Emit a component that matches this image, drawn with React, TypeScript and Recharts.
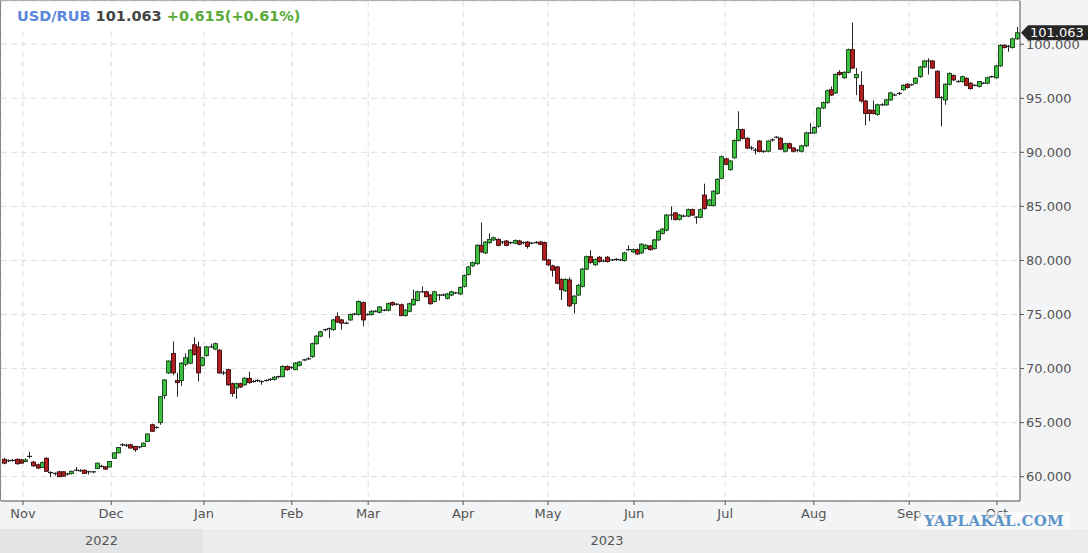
import { Bar, CartesianGrid, ComposedChart, ReferenceLine, XAxis, YAxis } from "recharts";

// daily candles, [open, high, low, close]
const ohlc: [number, number, number, number][] = [
  [61.6, 61.75, 61.15, 61.25], [61.45, 61.6, 61.35, 61.5], [61.5, 61.65, 61.4, 61.5], [61.6, 61.7, 61.1, 61.2],
  [61.55, 61.65, 61.2, 61.25], [61.4, 61.7, 61.35, 61.55], [61.85, 62.3, 61.7, 61.9], [61.35, 61.45, 60.9, 61.0],
  [61.1, 61.2, 60.7, 60.8], [60.85, 61.4, 60.8, 61.3], [61.7, 61.8, 60.45, 60.5], [60.4, 60.5, 59.95, 60.35],
  [60.3, 60.4, 60.1, 60.3], [60.45, 60.55, 59.95, 60.0], [60.45, 60.5, 60.0, 60.05], [60.25, 60.35, 60.1, 60.25],
  [60.3, 60.55, 60.2, 60.5], [60.6, 60.9, 60.5, 60.6], [60.55, 60.7, 60.45, 60.55], [60.6, 60.65, 60.25, 60.3],
  [60.45, 60.55, 60.2, 60.45], [60.45, 60.5, 60.3, 60.45], [60.75, 61.3, 60.7, 61.25], [60.95, 61.1, 60.85, 60.95],
  [60.9, 61.0, 60.65, 60.7], [60.9, 61.45, 60.85, 61.4], [61.7, 62.25, 61.65, 62.2], [62.2, 62.75, 62.15, 62.7],
  [62.95, 63.1, 62.8, 62.95], [62.9, 63.05, 62.75, 62.9], [62.95, 63.05, 62.6, 62.65], [62.8, 62.85, 62.3, 62.5],
  [62.75, 62.85, 62.6, 62.75], [62.8, 63.15, 62.75, 63.1], [63.25, 64.0, 63.2, 63.95], [64.8, 64.9, 64.15, 64.2],
  [64.55, 64.65, 64.45, 64.55], [65.0, 67.45, 64.8, 67.4], [67.5, 69.0, 67.2, 68.95], [69.6, 70.75, 69.5, 70.7],
  [71.4, 72.5, 69.4, 69.6], [68.9, 69.6, 67.4, 68.7], [68.9, 70.6, 68.4, 70.5], [70.4, 71.4, 70.2, 71.0],
  [70.5, 71.8, 70.4, 71.7], [72.2, 72.9, 71.2, 71.3], [72.0, 72.5, 68.8, 69.6], [70.3, 71.1, 70.2, 71.0],
  [71.2, 72.1, 71.1, 72.0], [72.0, 72.3, 71.9, 72.0], [71.8, 72.4, 71.7, 72.3], [71.7, 71.8, 69.5, 69.6],
  [69.6, 69.8, 69.4, 69.6], [69.9, 70.0, 68.4, 68.5], [68.6, 68.7, 67.4, 67.7], [68.2, 68.7, 67.2, 68.6],
  [68.6, 68.7, 68.2, 68.3], [68.5, 69.2, 68.4, 69.1], [69.1, 69.7, 68.6, 68.7], [68.8, 68.95, 68.7, 68.8],
  [68.9, 69.0, 68.75, 68.9], [68.8, 68.9, 68.5, 68.8], [68.9, 69.0, 68.8, 68.9], [69.0, 69.1, 68.85, 69.0],
  [69.0, 69.3, 68.9, 69.2], [69.25, 69.35, 69.1, 69.25], [69.25, 70.3, 69.2, 70.2], [70.2, 70.3, 69.8, 69.9],
  [70.1, 70.2, 69.95, 70.1], [69.9, 70.6, 69.85, 70.5], [70.3, 70.7, 70.2, 70.6], [70.8, 70.9, 70.7, 70.8],
  [70.9, 71.05, 70.8, 70.9], [71.1, 72.4, 71.0, 72.3], [72.3, 73.1, 72.2, 73.0], [73.0, 73.5, 72.9, 73.4],
  [73.6, 73.7, 73.45, 73.6], [73.7, 73.8, 72.8, 73.7], [73.6, 74.6, 73.5, 74.5], [74.8, 75.2, 74.2, 74.3],
  [74.5, 74.6, 73.6, 74.2], [74.2, 74.35, 74.1, 74.2], [74.5, 75.1, 74.4, 75.0], [75.05, 75.15, 74.9, 75.05],
  [75.0, 76.3, 74.9, 76.2], [76.1, 76.2, 73.9, 74.5], [75.0, 75.1, 74.9, 75.0], [75.0, 75.4, 74.9, 75.3],
  [75.3, 75.4, 75.2, 75.3], [75.2, 75.8, 75.1, 75.7], [75.4, 75.5, 75.3, 75.4], [75.4, 76.1, 75.3, 76.0],
  [76.1, 76.2, 75.8, 75.9], [75.95, 76.05, 75.85, 75.95], [75.9, 76.0, 74.85, 74.9], [74.9, 75.5, 74.8, 75.4],
  [75.3, 76.1, 75.2, 76.0], [75.9, 77.3, 75.8, 76.4], [76.3, 77.2, 76.2, 77.1], [77.1, 77.6, 77.0, 77.1],
  [77.1, 77.2, 76.6, 76.65], [76.8, 76.9, 75.9, 76.0], [76.2, 77.2, 76.1, 77.1], [76.8, 76.9, 76.3, 76.8],
  [76.8, 76.95, 76.7, 76.8], [76.5, 77.0, 76.4, 76.9], [76.8, 77.2, 76.7, 77.1], [77.0, 77.1, 76.9, 77.0],
  [76.9, 77.6, 76.8, 77.5], [77.6, 78.7, 77.5, 78.6], [78.7, 79.5, 78.6, 79.4], [79.5, 79.9, 79.4, 79.8],
  [79.7, 81.5, 79.6, 81.4], [81.4, 83.5, 80.7, 80.8], [80.7, 81.8, 80.6, 81.7], [81.65, 82.5, 81.55, 81.95],
  [81.9, 82.2, 81.8, 82.1], [81.95, 82.05, 81.3, 81.4], [81.7, 81.8, 81.5, 81.7], [81.8, 81.9, 81.3, 81.4],
  [81.65, 81.75, 81.5, 81.65], [81.6, 81.95, 81.5, 81.85], [81.8, 81.9, 81.4, 81.5], [81.65, 81.75, 81.5, 81.65],
  [81.7, 81.8, 81.1, 81.3], [81.6, 81.7, 81.5, 81.6], [81.65, 81.8, 81.55, 81.65], [81.7, 81.8, 81.4, 81.5],
  [81.65, 81.75, 80.0, 80.05], [80.05, 80.15, 79.5, 79.6], [79.5, 79.6, 78.5, 79.1], [79.4, 79.5, 77.8, 77.9],
  [78.25, 78.35, 76.35, 77.3], [77.2, 78.35, 77.1, 78.25], [78.2, 78.45, 75.7, 75.8], [76.0, 76.8, 75.1, 76.7],
  [76.8, 77.8, 76.7, 77.7], [77.6, 79.3, 77.5, 79.2], [79.2, 80.45, 79.1, 80.35], [80.35, 80.95, 79.7, 79.8],
  [79.6, 80.2, 79.5, 80.1], [80.3, 80.4, 79.8, 79.9], [79.95, 80.1, 79.85, 79.95], [80.3, 80.4, 79.8, 79.9],
  [80.05, 80.15, 79.95, 80.05], [80.1, 80.2, 79.95, 80.1], [80.05, 80.15, 79.95, 80.05], [80.0, 80.8, 79.9, 80.7],
  [81.0, 81.4, 80.9, 81.0], [80.8, 81.1, 80.7, 81.0], [81.0, 81.1, 80.5, 80.6], [80.7, 81.6, 80.6, 81.5],
  [81.1, 81.5, 81.0, 81.4], [81.35, 81.45, 80.9, 81.0], [81.1, 82.0, 81.0, 81.9], [81.9, 82.8, 81.8, 82.7],
  [82.5, 83.0, 82.4, 82.9], [82.8, 84.3, 82.7, 84.2], [84.2, 85.0, 83.75, 84.2], [84.4, 84.5, 83.7, 83.8],
  [83.8, 84.3, 83.7, 84.2], [84.1, 84.25, 84.0, 84.1], [84.1, 84.8, 84.0, 84.7], [84.7, 84.8, 84.1, 84.2],
  [84.0, 84.1, 83.4, 84.0], [84.0, 84.8, 83.9, 84.7], [86.05, 87.1, 84.7, 84.8], [85.1, 85.7, 85.0, 85.6],
  [85.1, 86.5, 85.0, 86.4], [86.2, 87.6, 86.1, 87.5], [87.6, 89.7, 87.5, 89.6], [89.4, 89.5, 88.8, 88.9],
  [88.4, 89.3, 88.3, 89.2], [89.5, 91.2, 89.4, 91.1], [91.1, 93.8, 91.0, 92.1], [92.1, 92.2, 91.2, 91.3],
  [91.3, 91.4, 90.3, 90.4], [90.4, 90.6, 90.2, 90.4], [90.2, 90.4, 89.8, 90.2], [91.05, 91.15, 90.0, 90.07],
  [90.1, 90.2, 89.95, 90.1], [90.1, 91.1, 90.0, 91.05], [91.1, 91.3, 91.0, 91.2], [91.4, 91.5, 91.3, 91.4],
  [91.3, 91.4, 90.2, 90.3], [90.1, 90.9, 90.0, 90.8], [90.8, 90.9, 90.3, 90.4], [90.4, 90.5, 90.0, 90.1],
  [90.2, 90.3, 90.0, 90.2], [90.1, 90.7, 90.0, 90.6], [90.6, 91.9, 90.5, 91.8], [91.8, 92.7, 91.7, 91.8],
  [91.8, 92.4, 91.7, 92.3], [92.4, 94.2, 92.3, 94.1], [94.1, 94.7, 94.0, 94.6], [94.6, 95.8, 94.5, 95.7],
  [95.8, 96.1, 95.2, 95.3], [95.5, 97.3, 95.4, 97.2], [97.4, 97.6, 97.1, 97.2], [96.9, 97.5, 96.8, 97.4],
  [97.4, 99.6, 97.3, 99.5], [99.5, 102.0, 97.7, 97.8], [96.9, 97.8, 95.3, 97.2], [96.2, 97.5, 94.6, 94.75],
  [94.75, 94.85, 92.5, 93.6], [93.9, 94.0, 92.9, 93.6], [93.9, 94.8, 93.5, 93.6], [93.5, 94.5, 93.4, 94.4],
  [94.4, 94.55, 94.3, 94.4], [94.4, 94.95, 94.3, 94.85], [94.85, 95.6, 94.75, 95.5], [95.3, 95.45, 95.2, 95.3],
  [95.45, 95.6, 95.3, 95.45], [95.8, 96.3, 95.7, 96.2], [96.3, 96.4, 95.9, 96.0], [96.25, 96.35, 96.15, 96.25],
  [96.4, 96.95, 96.3, 96.85], [97.0, 98.0, 96.9, 97.9], [97.9, 98.55, 97.8, 98.45], [98.45, 98.7, 97.2, 98.45],
  [98.45, 98.55, 97.7, 97.8], [97.5, 97.6, 95.0, 95.06], [95.06, 95.2, 92.4, 95.06], [94.85, 96.4, 94.4, 96.3],
  [96.3, 97.4, 96.2, 97.3], [97.1, 97.2, 96.6, 96.7], [96.55, 96.7, 96.45, 96.55], [96.55, 97.1, 96.45, 97.0],
  [96.85, 96.95, 96.1, 96.2], [96.4, 96.5, 95.8, 95.9], [96.2, 96.3, 96.1, 96.2], [96.1, 96.6, 96.0, 96.55],
  [96.4, 96.5, 96.3, 96.4], [96.4, 97.0, 96.3, 96.9], [97.0, 97.1, 96.9, 97.0], [96.9, 98.1, 96.8, 98.0],
  [98.0, 100.0, 97.9, 99.9], [99.9, 100.0, 99.6, 99.7], [99.8, 99.95, 99.3, 99.8], [99.7, 100.6, 99.6, 100.5],
  [100.5, 101.6, 100.4, 101.063],
];

const monthLabels = ["Nov", "Dec", "Jan", "Feb", "Mar", "Apr", "May", "Jun", "Jul", "Aug", "Sep", "Oct"];
// month boundaries, in candle index units
const monthTicks = [4.5, 25.4, 47.4, 68.2, 86.3, 108.8, 128.9, 149.3, 170.9, 191.9, 214.5, 235.3];
const priceTicks = [60, 65, 70, 75, 80, 85, 90, 95, 100];
const yearLabels = ["2022", "2023"];

const symbol = "USD/RUB";
const lastPrice = 101.063;
const change = 0.615;
const changePct = 0.61;

const data = ohlc.map(([open, high, low, close], i) => ({
  i,
  open,
  high,
  low,
  close,
  range: [low, high],
}));

const FONT = "'DejaVu Sans', Verdana, sans-serif";

function Candle(props: any) {
  const { x, y, width, height, payload } = props;
  if (!payload) return null;
  const { open, high, low, close } = payload;
  const top = Math.min(y, y + height);
  const h = Math.abs(height);
  const k = h / (high - low);
  const py = (v: number) => top + (high - v) * k;
  const cx = Math.round(x + width / 2) + 0.5;
  const up = close >= open;
  const bTop = py(Math.max(open, close));
  const bBot = py(Math.min(open, close));
  const fill = up ? "#3fbf3f" : "#b01f1f";
  const edge = up ? "#17401a" : "#3a0a0a";
  return (
    <g>
      <line x1={cx} x2={cx} y1={top} y2={top + h} stroke="#262626" strokeWidth={1} />
      {bBot - bTop < 1.5 ? (
        <line x1={cx - 2.5} x2={cx + 2.5} y1={(bTop + bBot) / 2} y2={(bTop + bBot) / 2} stroke="#262626" strokeWidth={1.2} />
      ) : (
        <rect x={cx - 2} y={bTop} width={4} height={bBot - bTop} fill={fill} stroke={edge} strokeWidth={0.9} />
      )}
    </g>
  );
}

function PriceTag(props: any) {
  const vb = props.viewBox;
  if (!vb) return null;
  const x0 = vb.x + vb.width + 1;
  const yc = vb.y;
  return (
    <g>
      <polygon
        points={`${x0},${yc} ${x0 + 7},${yc - 7.5} 1088,${yc - 7.5} 1088,${yc + 7.5} ${x0 + 7},${yc + 7.5}`}
        fill="#262626"
      />
      <text x={x0 + 9} y={yc + 4.5} fill="#fff" fontSize={13} fontFamily={FONT}>
        {lastPrice.toFixed(3)}
      </text>
    </g>
  );
}

export default function App() {
  return (
    <div
      style={{
        position: "absolute",
        left: 0,
        top: 0,
        width: 1088,
        height: 553,
        background: "#f3f4f6",
        overflow: "hidden",
        fontFamily: FONT,
      }}
    >
      <ComposedChart width={1088} height={553} data={data} margin={{ top: 1, right: 0, bottom: 0, left: 1 }}>
        <CartesianGrid stroke="#dedede" strokeDasharray="6 4" fill="#ffffff" />
        <XAxis
          type="number"
          dataKey="i"
          domain={[-0.71, 240.76]}
          allowDataOverflow
          ticks={monthTicks}
          interval={0}
          tickFormatter={(v: number) => monthLabels[monthTicks.indexOf(v)] ?? ""}
          height={52}
          tickSize={4}
          tickMargin={4}
          tick={{ fontSize: 13, fill: "#555", fontFamily: FONT }}
          axisLine={{ stroke: "#555" }}
          tickLine={{ stroke: "#555" }}
        />
        <YAxis
          orientation="right"
          domain={[57.75, 104]}
          allowDataOverflow
          ticks={priceTicks}
          interval={0}
          tickFormatter={(v: number) => v.toFixed(3)}
          width={68}
          tickSize={4}
          tickMargin={2}
          tick={{ fontSize: 13, fill: "#555", fontFamily: FONT, textAnchor: "start" }}
          axisLine={{ stroke: "#555" }}
          tickLine={{ stroke: "#555" }}
        />
        <Bar dataKey="range" shape={<Candle />} barSize={4} isAnimationActive={false} />
        <ReferenceLine y={lastPrice} stroke="none" label={<PriceTag />} />
      </ComposedChart>

      {/* plot frame, left and top */}
      <div
        style={{
          position: "absolute",
          left: 0,
          top: 0,
          width: 1020,
          height: 501,
          borderLeft: "1px solid #8a8a8a",
          borderTop: "1px solid #b0b0b0",
          boxSizing: "border-box",
          pointerEvents: "none",
        }}
      />

      {/* title */}
      <div
        style={{
          position: "absolute",
          left: 2,
          top: 2,
          width: 320,
          height: 27,
          background: "#fff",
          boxSizing: "border-box",
          paddingLeft: 15,
          paddingTop: 6,
          fontSize: 14.5,
          fontWeight: "bold",
          whiteSpace: "nowrap",
        }}
      >
        <span style={{ color: "#5b86dc" }}>{symbol}</span>{" "}
        <span style={{ color: "#444" }}>{lastPrice.toFixed(3)}</span>{" "}
        <span style={{ color: "#5aaa3a" }}>
          +{change.toFixed(3)}(+{changePct.toFixed(2)}%)
        </span>
      </div>

      {/* year band */}
      <div
        style={{
          position: "absolute",
          left: 0,
          top: 529,
          width: 203,
          height: 24,
          background: "#e3e4e6",
          color: "#555",
          fontSize: 13,
          textAlign: "center",
          lineHeight: "24px",
        }}
      >
        {yearLabels[0]}
      </div>
      <div
        style={{
          position: "absolute",
          left: 203,
          top: 529,
          width: 885,
          height: 24,
          background: "#ebeced",
        }}
      />
      <div
        style={{
          position: "absolute",
          left: 203,
          top: 529,
          width: 808,
          height: 24,
          color: "#555",
          fontSize: 13,
          textAlign: "center",
          lineHeight: "24px",
        }}
      >
        {yearLabels[1]}
      </div>

      {/* watermark */}
      <div
        style={{
          position: "absolute",
          left: 918,
          top: 512,
          width: 152,
          height: 18,
          background: "rgba(255,255,255,0.55)",
          color: "#5e95c8",
          fontFamily: "'DejaVu Serif', serif",
          fontWeight: 900,
          fontSize: 15,
          letterSpacing: 0.3,
          textAlign: "center",
          lineHeight: "18px",
        }}
      >
        YAPLAKAL.COM
      </div>
    </div>
  );
}
